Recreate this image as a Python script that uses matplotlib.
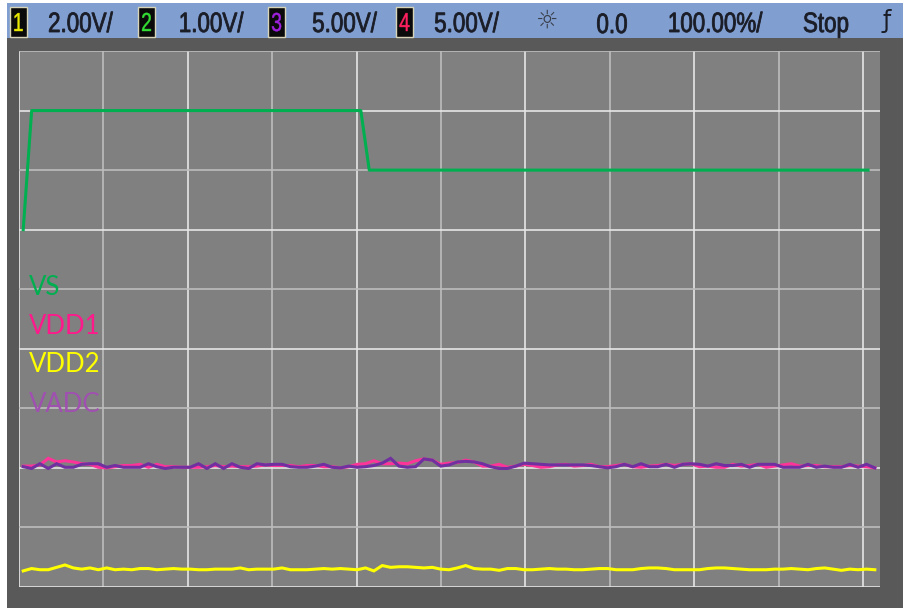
import matplotlib
matplotlib.use("Agg")
import matplotlib.pyplot as plt
import numpy as np
from matplotlib.patches import Rectangle, PathPatch
from matplotlib.textpath import TextPath
from matplotlib.font_manager import FontProperties
from matplotlib.transforms import Affine2D, IdentityTransform

W, H = 904, 608

# scope settings shown in the status bar
channel_ids = ["1", "2", "3", "4"]
channel_scales = ["2.00V/", "1.00V/", "5.00V/", "5.00V/"]
offset_text = "0.0"
timebase_text = "100.00%/"
run_state = "Stop"

# trace names (legend)
trace_names = ["VS", "VDD1", "VDD2", "VADC"]

# VS step trace, in screen divisions
vs_x = [0.05, 0.15, 4.05, 4.15, 10.06]
vs_y = [6.0, 8.0, 8.0, 7.0, 7.0]

# noisy supply traces, in screen divisions (sampled evenly across the screen)
noise_x_start, noise_x_end = 0.05, 10.14

vdd1 = [2.03, 2.03, 2.05, 2.16, 2.10, 2.12, 2.10, 2.07, 2.06, 2.01, 2.00, 2.02, 2.04,
        2.04, 2.06, 2.01, 2.06, 2.02, 2.02, 2.01, 2.01, 2.01, 2.02, 2.04, 2.02, 2.03,
        2.02, 2.02, 2.03, 2.05, 2.04, 2.04, 2.04, 2.02, 2.04, 2.04, 2.02, 2.02, 2.00,
        2.02, 2.06, 2.07, 2.12, 2.07, 2.07, 2.08, 2.07, 2.12, 2.15, 2.13, 2.06,
        2.08, 2.09, 2.13, 2.10, 2.03, 2.03, 2.06, 2.01, 2.03, 2.06, 2.04, 2.01, 2.02,
        2.05, 2.06, 2.03, 2.04, 2.06, 2.02, 2.02, 2.04, 2.06, 2.02, 2.01, 2.03, 2.04,
        2.06, 2.04, 2.06, 2.07, 2.02, 2.03, 2.01, 2.01, 2.06, 2.03, 2.04, 2.06, 2.01,
        2.03, 2.05, 2.07, 2.03, 2.04, 2.04, 2.02, 2.02, 2.02, 2.04, 2.03, 2.02, 2.00]

vadc = [2.02, 1.99, 2.07, 1.99, 2.07, 2.01, 2.01, 2.06, 2.07, 2.07, 2.01, 2.04, 2.01,
        2.01, 2.01, 2.07, 2.02, 1.99, 2.01, 2.01, 2.01, 2.07, 1.99, 2.07, 1.99, 2.07,
        2.01, 1.99, 2.07, 2.05, 2.06, 2.06, 2.02, 2.01, 2.01, 2.03, 2.06, 2.01, 2.00,
        2.03, 2.01, 2.02, 2.04, 2.08, 2.16, 2.03, 2.01, 2.02, 2.15, 2.13, 2.03,
        2.05, 2.10, 2.11, 2.10, 2.07, 2.02, 1.99, 1.99, 2.03, 2.08, 2.07, 2.06, 2.05,
        2.05, 2.05, 2.05, 2.05, 2.04, 2.02, 2.00, 2.02, 2.06, 2.02, 2.07, 2.02, 2.02,
        2.06, 2.01, 2.06, 2.07, 2.06, 2.03, 2.07, 2.04, 2.04, 2.06, 2.01, 2.06, 2.06,
        2.06, 2.01, 2.01, 2.01, 2.06, 2.01, 2.03, 2.01, 2.01, 2.06, 2.01, 2.06, 2.00]

vdd2 = [0.27, 0.31, 0.29, 0.29, 0.33, 0.37, 0.32, 0.30, 0.32, 0.29, 0.32, 0.29, 0.30,
        0.29, 0.31, 0.31, 0.29, 0.30, 0.31, 0.30, 0.30, 0.29, 0.29, 0.30, 0.30, 0.30,
        0.32, 0.29, 0.30, 0.30, 0.30, 0.32, 0.29, 0.29, 0.29, 0.30, 0.31, 0.30, 0.31,
        0.30, 0.29, 0.32, 0.27, 0.36, 0.33, 0.34, 0.34, 0.33, 0.32, 0.33, 0.30,
        0.29, 0.32, 0.36, 0.31, 0.30, 0.30, 0.28, 0.31, 0.31, 0.29, 0.29, 0.30, 0.31,
        0.30, 0.30, 0.29, 0.29, 0.30, 0.31, 0.31, 0.29, 0.29, 0.29, 0.31, 0.32, 0.32,
        0.31, 0.29, 0.29, 0.29, 0.29, 0.31, 0.32, 0.32, 0.31, 0.30, 0.29, 0.29, 0.29,
        0.30, 0.30, 0.31, 0.30, 0.29, 0.31, 0.32, 0.30, 0.28, 0.30, 0.29, 0.30, 0.29]

c_vs = "#00b050"
c_vdd1 = "#ff3399"
c_vdd2 = "#ffff00"
c_vadc = "#7030a0"
label_colors = [c_vs, "#ff1a8c", "#ffff00", "#a050b0"]


def fx(x):
    return x / W


def fy(y):
    return 1 - y / H


hdr_prop = FontProperties(family="Liberation Sans")


def narrow_text(fig, cx, base, s, color, size=28, squeeze=0.8, edge=0.6):
    # status-bar font is condensed: draw the glyph outlines squeezed horizontally,
    # centred on cx and sitting on the pixel row `base`
    tp = TextPath((0, 0), s, size=size, prop=hdr_prop)
    ext = tp.get_extents()
    tr = (Affine2D().translate(-(ext.x0 + ext.x1) / 2, 0)
          .scale(squeeze, 1).translate(cx, H - base))
    fig.patches.append(PathPatch(tr.transform_path(tp), transform=IdentityTransform(),
                                 facecolor=color, edgecolor=color, lw=edge, zorder=3))


fig = plt.figure(figsize=(W / 100, H / 100), dpi=100)
fig.patch.set_facecolor("white")

# dark bezel and blue status bar
fig.patches.append(Rectangle((fx(7), 0), 1 - fx(7), fy(38), transform=fig.transFigure,
                             facecolor="#595959", edgecolor="none", zorder=-2))
fig.patches.append(Rectangle((fx(7), fy(38)), 1 - fx(7), (38 - 3) / H,
                             transform=fig.transFigure, facecolor="#809fd0",
                             edgecolor="none", zorder=-2))

txt_col = "#1a1c26"
box_x = [10, 138, 268, 396]
digit_cols = ["#e8e800", "#33dd33", "#a020e0", "#ff2060"]
scale_x = [81, 212, 345, 467]
for cid, sc, bx, dc, sx in zip(channel_ids, channel_scales, box_x, digit_cols, scale_x):
    fig.patches.append(Rectangle((fx(bx), fy(37)), 17 / W, 30 / H,
                                 transform=fig.transFigure, facecolor="#0a0a0a",
                                 edgecolor="#d8d4b8", linewidth=1, zorder=2))
    narrow_text(fig, bx + 8.5, 31, cid, dc, size=26, squeeze=0.75, edge=0.3)
    narrow_text(fig, sx, 32, sc, txt_col)

fig.text(fx(547), fy(21), "\u263c", color="#3a3e4a", fontsize=18,
         family="DejaVu Sans", ha="center", va="center")
narrow_text(fig, 612, 33, offset_text, txt_col)
narrow_text(fig, 716, 32, timebase_text, txt_col)
narrow_text(fig, 826, 32, run_state, txt_col)
fig.text(fx(887), fy(21), "\u0192", color=txt_col, fontsize=17, family="DejaVu Sans",
         ha="center", va="center")

# graticule
ax = fig.add_axes([fx(19), 21 / H, 861 / W, 536 / H])
ax.set_facecolor("#808080")
ax.set_xlim(0, 861 / 84.4)
ax.set_ylim(0, 9)
ax.set_xticks([])
ax.set_yticks([])
for s in ax.spines.values():
    s.set_visible(False)

for k in range(11):
    ax.axvline(k, color="#e6e6e6" if k % 2 == 0 else "#bdbdbd", lw=1.2, zorder=1)
for k in range(10):
    ax.axhline(k, color="#e6e6e6" if k % 2 == 0 else "#bdbdbd", lw=1.2, zorder=1)

# traces
lw = 2.2
ax.plot(vs_x, vs_y, color=c_vs, lw=lw, zorder=3)
for vals, col in [(vdd1, c_vdd1), (vadc, c_vadc), (vdd2, c_vdd2)]:
    xs = np.linspace(noise_x_start, noise_x_end, len(vals))
    ax.plot(xs, vals, color=col, lw=lw, zorder=3, solid_joinstyle="miter")

# legend names
label_y = [288, 326, 365, 404]
for name, col, ly in zip(trace_names, label_colors, label_y):
    fig.text(fx(29), fy(ly), name, color=col, fontsize=18.5,
             family=["Lato", "DejaVu Sans"], ha="left", va="center")

fig.savefig("out.png", dpi=100)
